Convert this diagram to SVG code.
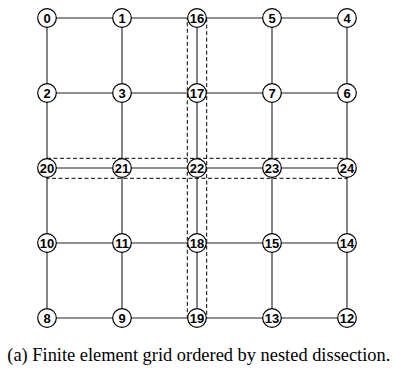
<svg xmlns="http://www.w3.org/2000/svg" width="394" height="370" viewBox="0 0 394 370">
<style>
.e{stroke:#222;stroke-width:1.1;fill:none}
.d{stroke:#000;stroke-width:1;fill:none;stroke-dasharray:4,2.5}
.n circle{fill:#fff;stroke:#000;stroke-width:1.2}
.n text{font-family:"Liberation Sans",Arial,sans-serif;font-weight:bold;font-size:13px;text-anchor:middle;dominant-baseline:central}
</style>
<rect width="394" height="370" fill="#fff"/>
<g id="connectors">
<path class="e" d="M47 18H347M47 93H347M47 168H347M47 243H347M47 318H347M47 18V318M122 18V318M197 18V318M272 18V318M347 18V318"/>
<rect class="d" x="187.3" y="18" width="19.4" height="300"/>
<rect class="d" x="47" y="158.3" width="300" height="20"/>
</g>
<g id="n0" class="n"><circle cx="47" cy="18" r="9.3"/><text x="47" y="18.5">0</text></g>
<g id="n1" class="n"><circle cx="122" cy="18" r="9.3"/><text x="122" y="18.5">1</text></g>
<g id="n16" class="n"><circle cx="197" cy="18" r="9.3"/><text x="197" y="18.5">16</text></g>
<g id="n5" class="n"><circle cx="272" cy="18" r="9.3"/><text x="272" y="18.5">5</text></g>
<g id="n4" class="n"><circle cx="347" cy="18" r="9.3"/><text x="347" y="18.5">4</text></g>
<g id="n2" class="n"><circle cx="47" cy="93" r="9.3"/><text x="47" y="93.5">2</text></g>
<g id="n3" class="n"><circle cx="122" cy="93" r="9.3"/><text x="122" y="93.5">3</text></g>
<g id="n17" class="n"><circle cx="197" cy="93" r="9.3"/><text x="197" y="93.5">17</text></g>
<g id="n7" class="n"><circle cx="272" cy="93" r="9.3"/><text x="272" y="93.5">7</text></g>
<g id="n6" class="n"><circle cx="347" cy="93" r="9.3"/><text x="347" y="93.5">6</text></g>
<g id="n20" class="n"><circle cx="47" cy="168" r="9.3"/><text x="47" y="168.5">20</text></g>
<g id="n21" class="n"><circle cx="122" cy="168" r="9.3"/><text x="122" y="168.5">21</text></g>
<g id="n22" class="n"><circle cx="197" cy="168" r="9.3"/><text x="197" y="168.5">22</text></g>
<g id="n23" class="n"><circle cx="272" cy="168" r="9.3"/><text x="272" y="168.5">23</text></g>
<g id="n24" class="n"><circle cx="347" cy="168" r="9.3"/><text x="347" y="168.5">24</text></g>
<g id="n10" class="n"><circle cx="47" cy="243" r="9.3"/><text x="47" y="243.5">10</text></g>
<g id="n11" class="n"><circle cx="122" cy="243" r="9.3"/><text x="122" y="243.5">11</text></g>
<g id="n18" class="n"><circle cx="197" cy="243" r="9.3"/><text x="197" y="243.5">18</text></g>
<g id="n15" class="n"><circle cx="272" cy="243" r="9.3"/><text x="272" y="243.5">15</text></g>
<g id="n14" class="n"><circle cx="347" cy="243" r="9.3"/><text x="347" y="243.5">14</text></g>
<g id="n8" class="n"><circle cx="47" cy="318" r="9.3"/><text x="47" y="318.5">8</text></g>
<g id="n9" class="n"><circle cx="122" cy="318" r="9.3"/><text x="122" y="318.5">9</text></g>
<g id="n19" class="n"><circle cx="197" cy="318" r="9.3"/><text x="197" y="318.5">19</text></g>
<g id="n13" class="n"><circle cx="272" cy="318" r="9.3"/><text x="272" y="318.5">13</text></g>
<g id="n12" class="n"><circle cx="347" cy="318" r="9.3"/><text x="347" y="318.5">12</text></g>
<text x="7.3" y="360.7" font-family="'Liberation Serif', 'Times New Roman', serif" font-size="18.4">(a) Finite element grid ordered by nested dissection.</text>
</svg>
